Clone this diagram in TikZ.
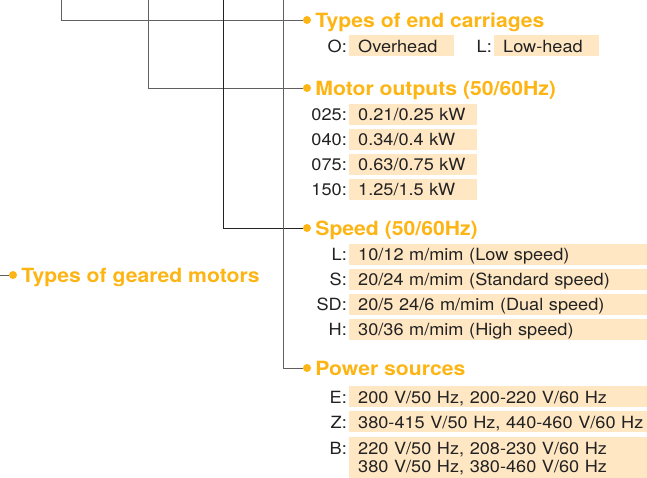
\documentclass[tikz,border=0pt]{standalone}
\usepackage{fontspec}
\setmainfont[FakeStretch=1.08]{TeX Gyre Heros}
\usetikzlibrary{positioning}
\definecolor{hoistorange}{HTML}{FDB515}
\definecolor{hoistpeach}{HTML}{FFE7C4}
\definecolor{wiregray}{HTML}{606060}
\definecolor{inkgray}{HTML}{222222}

\tikzset{
  heading/.style={text=hoistorange, font=\fontsize{19.6}{20}\selectfont\bfseries,
    inner sep=0pt, text height=15pt, text depth=0pt},
  bullet/.style={circle, fill=hoistorange, inner sep=0pt, minimum size=8pt},
  codelabel/.style={text=inkgray, font=\fontsize{16.8}{18.3}\selectfont,
    inner sep=0pt, text height=13.6pt, text depth=0pt},
  valuebox/.style={fill=hoistpeach, text=inkgray, font=\fontsize{16.8}{18.3}\selectfont,
    anchor=west, align=left, inner xsep=9pt, inner ysep=0pt, minimum height=21pt,
    text height=13.6pt, text depth=0pt},
  wire/.style={wiregray, line width=1pt},
  darkwire/.style={inkgray, line width=1pt},
}

\begin{document}
\begin{tikzpicture}[x=1pt, y=-1pt]
    \useasboundingbox (0,0) rectangle (647,477);

    % Wire ends at the top and left
    \coordinate (carriages top) at (61,0);
    \coordinate (outputs top) at (148,0);
    \coordinate (speed top) at (223,0);
    \coordinate (power top) at (283,0);
    \coordinate (left end) at (0,275);

    % Headings
    \node[bullet] (carriages dot) at (307,20) {};
    \node[heading, right=4pt of carriages dot] (carriages) {Types of end carriages};
    \node[bullet] (outputs dot) at (307,88) {};
    \node[heading, right=4pt of outputs dot] (outputs) {Motor outputs (50/60Hz)};
    \node[bullet] (speed dot) at (307,228) {};
    \node[heading, right=4pt of speed dot] (speed) {Speed (50/60Hz)};
    \node[bullet] (power dot) at (307,368) {};
    \node[heading, right=4pt of power dot] (power) {Power sources};
    \node[bullet] (gearmotor dot) at (13,275) {};
    \node[heading, right=4pt of gearmotor dot] (gearmotor) {Types of geared motors};

    % Wires
    \draw[wire] (carriages top) |- (carriages dot);
    \draw[wire] (outputs top) |- (outputs dot);
    \draw[darkwire] (speed top) |- (speed dot);
    \draw[wire] (power top) |- (power dot);
    \draw[wire] (left end) -- (gearmotor dot);

    % End carriages
    \node[valuebox, text width=87pt] (overhead) at (349,45.3) {Overhead};
    \node[codelabel, left=2pt of overhead] (overhead code) {O:};
    \node[valuebox, text width=87pt] (lowhead) at (494,45.3) {Low-head};
    \node[codelabel, left=2pt of lowhead] (lowhead code) {L:};

    % Motor outputs
    \foreach \code/\val [count=\i] in {025/{0.21/0.25 kW}, 040/{0.34/0.4 kW},
        075/{0.63/0.75 kW}, 150/{1.25/1.5 kW}} {
      \node[valuebox, text width=110pt] (output\i) at (349,89+25*\i) {\val};
      \node[codelabel, left=2pt of output\i] (output\i code) {\code:};
    }

    % Speeds (boxes run off the right edge)
    \foreach \code/\val [count=\i] in {L/{10/12 m/mim (Low speed)},
        S/{20/24 m/mim (Standard speed)}, SD/{20/5 24/6 m/mim (Dual speed)},
        H/{30/36 m/mim (High speed)}} {
      \node[valuebox, text width=300pt] (speed\i) at (349,229+25*\i) {\val};
      \node[codelabel, left=2pt of speed\i] (speed\i code) {\code:};
    }

    % Power sources
    \node[valuebox, text width=300pt] (sourceE) at (349,396.5) {200 V/50 Hz, 200-220 V/60 Hz};
    \node[codelabel, left=2pt of sourceE] (sourceE code) {E:};
    \node[valuebox, text width=300pt] (sourceZ) at (349,421.5) {380-415 V/50 Hz, 440-460 V/60 Hz};
    \node[codelabel, left=2pt of sourceZ] (sourceZ code) {Z:};
    \node[valuebox, text width=300pt, minimum height=41pt, text height=13pt, text depth=18pt]
      (sourceB) at (349,457) {220 V/50 Hz, 208-230 V/60 Hz\\380 V/50 Hz, 380-460 V/60 Hz};
    \node[codelabel, anchor=base east] (sourceB code) at ([xshift=-2pt, yshift=3pt]sourceB.west) {B:};
\end{tikzpicture}
\end{document}
